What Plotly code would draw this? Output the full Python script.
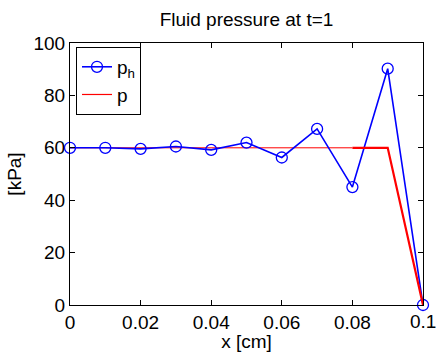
import plotly.graph_objects as go

x_h = [0, 0.01, 0.02, 0.03, 0.04, 0.05, 0.06, 0.07, 0.08, 0.09, 0.1]
p_h = [60.0, 60.0, 59.6, 60.5, 59.2, 62.0, 56.3, 67.2, 45.0, 90.2, 0.0]

x_p_thin = [0, 0.08]
p_thin = [60, 60]
x_p_thick = [0.08, 0.09, 0.1]
p_thick = [60, 60, 0]

x_ticks = [0, 0.02, 0.04, 0.06, 0.08, 0.1]
x_tick_labels = ["0", "0.02", "0.04", "0.06", "0.08", "0.1"]
y_ticks = [0, 20, 40, 60, 80, 100]

font = "Liberation Sans, Arial, sans-serif"
fs = 19

fig = go.Figure()
fig.add_trace(go.Scatter(x=x_p_thin, y=p_thin, mode="lines", name="p",
                         line=dict(color="#FF0000", width=1), showlegend=False))
fig.add_trace(go.Scatter(x=x_h, y=p_h, mode="lines+markers", name="p<sub>h</sub>",
                         line=dict(color="#0000FF", width=1.6), cliponaxis=False,
                         marker=dict(symbol="circle-open", size=11, color="#0000FF",
                                     line=dict(width=1.3, color="#0000FF"))))
fig.add_trace(go.Scatter(x=x_p_thick, y=p_thick, mode="lines", name="p",
                         line=dict(color="#FF0000", width=2.2), showlegend=False))
fig.add_trace(go.Scatter(x=[None], y=[None], mode="lines", name="p",
                         line=dict(color="#FF0000", width=1.2)))

# last x tick label drawn as annotation (plotly hides labels overflowing the page)
fig.add_annotation(x=x_ticks[-1], xref="x", y=0, yref="paper", yanchor="top",
                   xanchor="center", yshift=-4, text=x_tick_labels[-1],
                   showarrow=False, font=dict(size=fs, family=font, color="black"))

fig.update_layout(
    width=436, height=352,
    margin=dict(l=70, r=13, t=42.5, b=46.5),
    paper_bgcolor="white", plot_bgcolor="white",
    font=dict(family=font, size=fs, color="black"),
    title=dict(text="Fluid pressure at t=1", x=0.5, xref="paper", xanchor="center",
               y=1 - 19 / 352, yref="container", yanchor="middle",
               font=dict(size=fs, family=font, color="black")),
    showlegend=True,
    legend=dict(x=0.017, y=0.985, xanchor="left", yanchor="top",
                bordercolor="black", borderwidth=1, bgcolor="white",
                font=dict(size=fs, family=font), tracegroupgap=0,
                itemwidth=30),
    xaxis=dict(range=[0, 0.1], tickvals=x_ticks[:-1], ticktext=x_tick_labels[:-1],
               ticks="inside", ticklen=5, tickcolor="black", showgrid=False,
               zeroline=False, showline=True, linecolor="black", linewidth=1,
               mirror="ticks", tickfont=dict(size=fs), automargin=False,
               title=dict(text="x [cm]", font=dict(size=fs), standoff=0)),
    yaxis=dict(range=[0, 100], tickvals=y_ticks,
               ticks="inside", ticklen=5, tickcolor="black", showgrid=False,
               zeroline=False, showline=True, linecolor="black", linewidth=1,
               mirror="ticks", tickfont=dict(size=fs), automargin=False,
               title=dict(text="[kPa]", font=dict(size=fs), standoff=6)),
)

fig.write_html("out.html")
